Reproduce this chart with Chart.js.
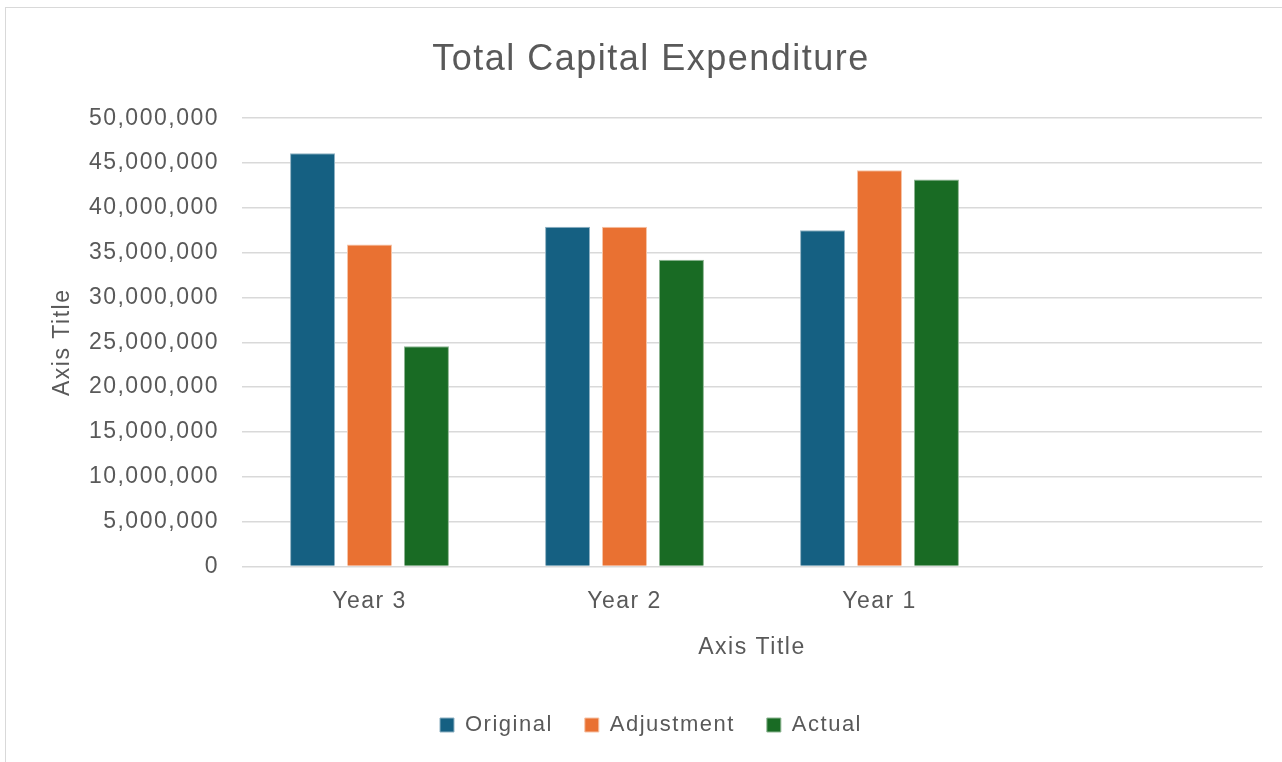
<!DOCTYPE html>
<html>
<head>
<meta charset="utf-8">
<title>Total Capital Expenditure</title>
<script src="https://cdn.jsdelivr.net/npm/chart.js@4"></script>
<style>
  html, body { margin: 0; padding: 0; background: #fff; overflow: hidden; }
  .frame {
    position: absolute; left: 5px; top: 7px;
    width: 1290px; height: 780px;
    border: 1px solid #d9d9d9;
  }
  canvas { display: block; }
</style>
</head>
<body>
<div class="frame">
  <canvas id="capex" width="1290" height="760"></canvas>
</div>
<script>
// categories (last slot is left empty on purpose)
const years = ['Year 3', 'Year 2', 'Year 1', ''];
const original   = [46100000, 37900000, 37500000];
const adjustment = [35900000, 37900000, 44200000];
const actual     = [24550000, 34200000, 43150000];
const yTicksMax = 50000000;
const yTicksStep = 5000000;

const grey = '#595959';
const fontFamily = "'Liberation Sans', Arial, sans-serif";

// wider tracking on every text the chart draws
const tracking = {
  id: 'tracking',
  beforeUpdate(chart) { chart.ctx.letterSpacing = '1.5px'; },
  beforeDraw(chart) { chart.ctx.letterSpacing = '1.5px'; }
};

const ctx = document.getElementById('capex');
const chart = new Chart(ctx, {
  type: 'bar',
  data: {
    labels: years,
    datasets: [
      { label: 'Original', data: original, backgroundColor: '#156082', borderColor: '#8fb1c2', borderWidth: 1 },
      { label: 'Adjustment', data: adjustment, backgroundColor: '#E97132', borderColor: '#f6c3a6', borderWidth: 1 },
      { label: 'Actual', data: actual, backgroundColor: '#196B24', borderColor: '#8db592', borderWidth: 1 }
    ]
  },
  options: {
    responsive: false,
    animation: false,
    layout: { padding: { left: 0, right: 0, top: 0, bottom: 22 } },
    datasets: {
      bar: { categoryPercentage: 0.67, barPercentage: 0.79 }
    },
    plugins: {
      title: {
        display: true,
        text: 'Total Capital Expenditure',
        color: grey,
        font: { family: fontFamily, size: 36, weight: 'normal' },
        padding: { top: 30, bottom: 37 }
      },
      legend: {
        position: 'bottom',
        labels: {
          color: grey,
          font: { family: fontFamily, size: 22 },
          boxWidth: 14,
          boxHeight: 14,
          padding: 32
        }
      },
      tooltip: { enabled: false }
    },
    scales: {
      x: {
        grid: { display: false, drawTicks: false },
        border: { color: '#d9d9d9' },
        ticks: { color: grey, font: { family: fontFamily, size: 23 }, padding: 21 },
        title: {
          display: true,
          text: 'Axis Title',
          color: grey,
          font: { family: fontFamily, size: 23, lineHeight: 1 },
          padding: { top: 0, bottom: 23 }
        }
      },
      y: {
        min: 0,
        max: yTicksMax,
        grid: { color: '#d9d9d9', lineWidth: 1.5, drawTicks: false },
        border: { display: false },
        ticks: {
          stepSize: yTicksStep,
          color: grey,
          font: { family: fontFamily, size: 23 },
          padding: 23,
          callback: (v) => v.toLocaleString('en-US')
        },
        title: {
          display: true,
          text: 'Axis Title',
          color: grey,
          font: { family: fontFamily, size: 23 },
          padding: { top: 43, bottom: 0 }
        },
        afterFit(scale) { scale.width = 236; }
      },
      // empty right-hand gutter so the title stays centred on the whole chart
      gutter: {
        position: 'right',
        grid: { display: false },
        border: { display: false },
        ticks: { display: false },
        afterFit(scale) { scale.width = 34; }
      }
    }
  },
  plugins: [tracking]
});
</script>
</body>
</html>
